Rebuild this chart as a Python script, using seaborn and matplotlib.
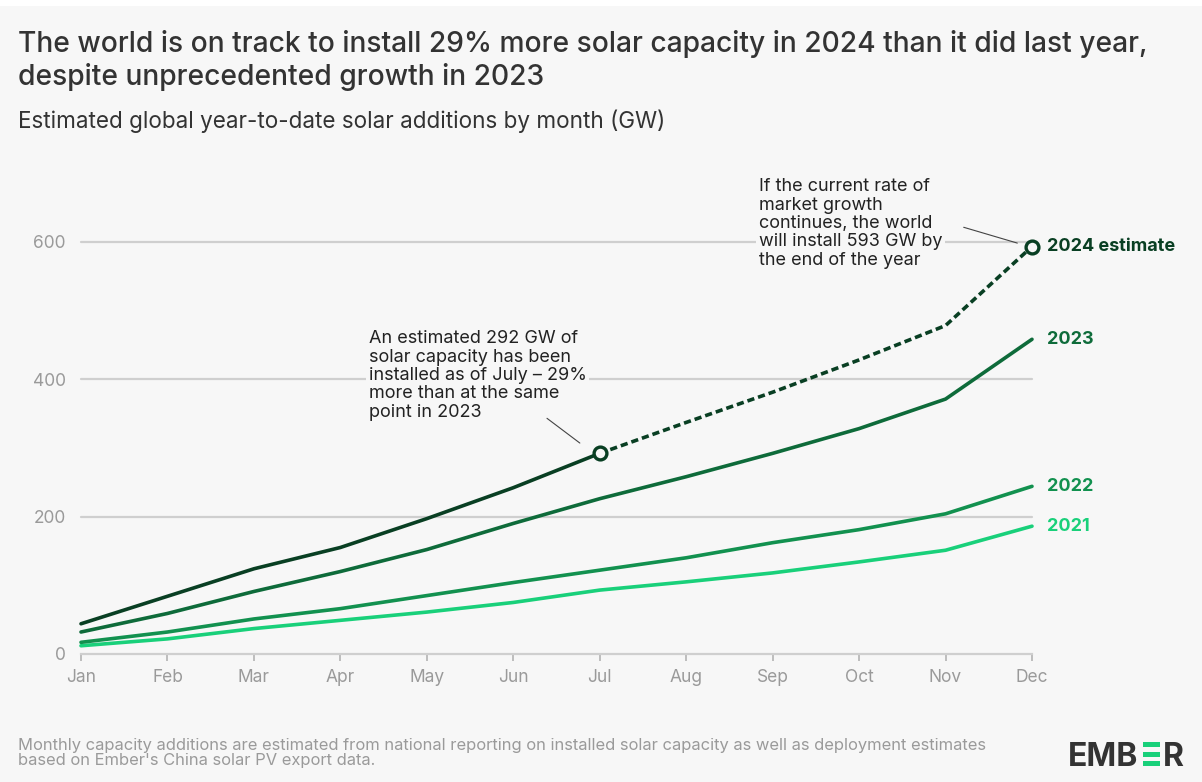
import numpy as np
import pandas as pd
import matplotlib.pyplot as plt
import seaborn as sns
from matplotlib.colors import LinearSegmentedColormap
from matplotlib.patches import Rectangle

# data (GW, year-to-date)
months = ["Jan", "Feb", "Mar", "Apr", "May", "Jun",
          "Jul", "Aug", "Sep", "Oct", "Nov", "Dec"]
y2021 = [12, 22, 37, 49, 61, 75, 93, 105, 118, 134, 151, 186]
y2022 = [17, 32, 51, 66, 85, 104, 122, 140, 162, 181, 204, 244]
y2023 = [32, 59, 91, 120, 152, 190, 226, 258, 292, 328, 371, 458]
y2024 = [44, 84, 124, 155, 197, 242, 292]
y2024_est = [292, 337, 381, 428, 478, 593]
y_ticks = [0, 200, 400, 600]

BG = "#f7f7f7"
colors = {"2021": "#19d07a", "2022": "#12914f", "2023": "#0e6b3a", "2024": "#093f23"}

sns.set_theme(style="white")
plt.rcParams["font.family"] = ["Inter", "DejaVu Sans"]

fig = plt.figure(figsize=(12.02, 7.82), dpi=100, facecolor=BG)
ax = fig.add_axes([81 / 1202, 1 - 654 / 782, (1032 - 81) / 1202, (654 - 173) / 782])
ax.set_facecolor(BG)

x_all = np.arange(len(months))
frames = [
    pd.DataFrame({"month": x_all, "gw": y2021, "series": "2021"}),
    pd.DataFrame({"month": x_all, "gw": y2022, "series": "2022"}),
    pd.DataFrame({"month": x_all, "gw": y2023, "series": "2023"}),
    pd.DataFrame({"month": x_all[:len(y2024)], "gw": y2024, "series": "2024"}),
]
df = pd.concat(frames, ignore_index=True)
est = pd.DataFrame({"month": x_all[len(y2024) - 1:], "gw": y2024_est})

# gridlines first so lines draw on top
for yt in y_ticks[1:]:
    ax.axhline(yt, color="#cfcfcf", lw=1.6, zorder=0)

sns.lineplot(data=df, x="month", y="gw", hue="series", palette=colors,
             lw=2.6, legend=False, ax=ax, zorder=3)
sns.lineplot(data=est, x="month", y="gw", color=colors["2024"], lw=2.6,
             ax=ax, zorder=3, dashes=False)
ax.lines[-1].set_dashes((2.0, 1.1))
ax.lines[-1].set_dash_capstyle("butt")
for ln in ax.lines:
    ln.set_clip_on(False)

# open markers on the 2024 line
ax.scatter([x_all[len(y2024) - 1], x_all[-1]], [y2024[-1], y2024_est[-1]],
           s=85, facecolor=BG, edgecolor=colors["2024"], linewidth=2.4,
           zorder=5, clip_on=False)

ax.set_xlim(0, 11)
ax.set_ylim(0, 700)
ax.set_xticks(x_all)
ax.set_xticklabels(months)
ax.set_yticks(y_ticks)
ax.set_xlabel("")
ax.set_ylabel("")
for s in ["top", "right", "left"]:
    ax.spines[s].set_visible(False)
ax.spines["bottom"].set_color("#cfcfcf")
ax.spines["bottom"].set_linewidth(1.6)
ax.tick_params(axis="x", length=5, width=1.4, color="#bdbdbd", labelsize=12.5,
               labelcolor="#9a9a9a", pad=6, direction="out", bottom=True)
ax.tick_params(axis="y", length=0, labelsize=12.5, labelcolor="#9a9a9a", pad=11)

# end labels
ends = [("2024 estimate", y2024_est[-1], colors["2024"]),
        ("2023", y2023[-1], colors["2023"]),
        ("2022", y2022[-1], colors["2022"]),
        ("2021", y2021[-1], colors["2021"])]
for lab, yv, c in ends:
    ax.text(11.17, yv, lab, color=c, fontsize=13, fontweight="bold",
            va="center", ha="left", clip_on=False)

# annotations
box = dict(facecolor=BG, edgecolor="none", pad=2)
ax.text(3.33, 471, "An estimated 292 GW of\nsolar capacity has been\ninstalled as of July – 29%\n"
        "more than at the same\npoint in 2023", fontsize=13, color="#222222",
        va="top", ha="left", linespacing=1.1, bbox=box, zorder=2)
ax.plot([5.39, 5.77], [343, 307], color="#444444", lw=0.8, zorder=2)
ax.text(7.84, 692, "If the current rate of\nmarket growth\ncontinues, the world\n"
        "will install 593 GW by\nthe end of the year", fontsize=13, color="#222222",
        va="top", ha="left", linespacing=1.1, bbox=box, zorder=2, clip_on=False)
ax.plot([10.21, 10.83], [621, 598], color="#444444", lw=0.8, zorder=2)

# titles
fig.text(18 / 1202, 1 - 44 / 782, "The world is on track to install 29% more solar capacity in 2024 than it did last year,",
         fontsize=20.3, fontweight="medium", color="#333333", va="center", ha="left")
fig.text(18 / 1202, 1 - 77 / 782, "despite unprecedented growth in 2023",
         fontsize=20.3, fontweight="medium", color="#333333", va="center", ha="left")
fig.text(18 / 1202, 1 - 121 / 782, "Estimated global year-to-date solar additions by month (GW)",
         fontsize=16.2, color="#333333", va="center", ha="left")

# footer
fig.text(18 / 1202, 1 - 753 / 782,
         "Monthly capacity additions are estimated from national reporting on installed solar capacity as well as deployment estimates\n"
         "based on Ember's China solar PV export data.",
         fontsize=11.9, color="#9a9a9a", va="center", ha="left", linespacing=1.0)

# EMBER logo
fig.text(1138 / 1202, 1 - 766 / 782, "EMB", fontsize=23, fontweight="bold",
         color="#333333", ha="right", va="baseline")
fig.text(1163 / 1202, 1 - 766 / 782, "R", fontsize=23, fontweight="bold",
         color="#333333", ha="left", va="baseline")
for top in [742, 751.5, 761]:
    fig.patches.append(Rectangle((1143 / 1202, 1 - (top + 5) / 782), 17 / 1202, 5 / 782,
                                 transform=fig.transFigure, facecolor="#19d07a",
                                 edgecolor="none"))

# top gradient bar
fig.patches.append(Rectangle((0, 1 - 6 / 782), 1, 6 / 782, transform=fig.transFigure,
                             facecolor="white", edgecolor="none"))
bar_ax = fig.add_axes([0, 1 - 6 / 782, 218 / 1202, 6 / 782])
grad = LinearSegmentedColormap.from_list("bar", ["#1f2a5c", "#2f7a6a", "#4cc878"])
bar_ax.imshow(np.linspace(0, 1, 256)[None, :], aspect="auto", cmap=grad)
bar_ax.axis("off")

fig.savefig("out.png", dpi=100, facecolor=BG)
